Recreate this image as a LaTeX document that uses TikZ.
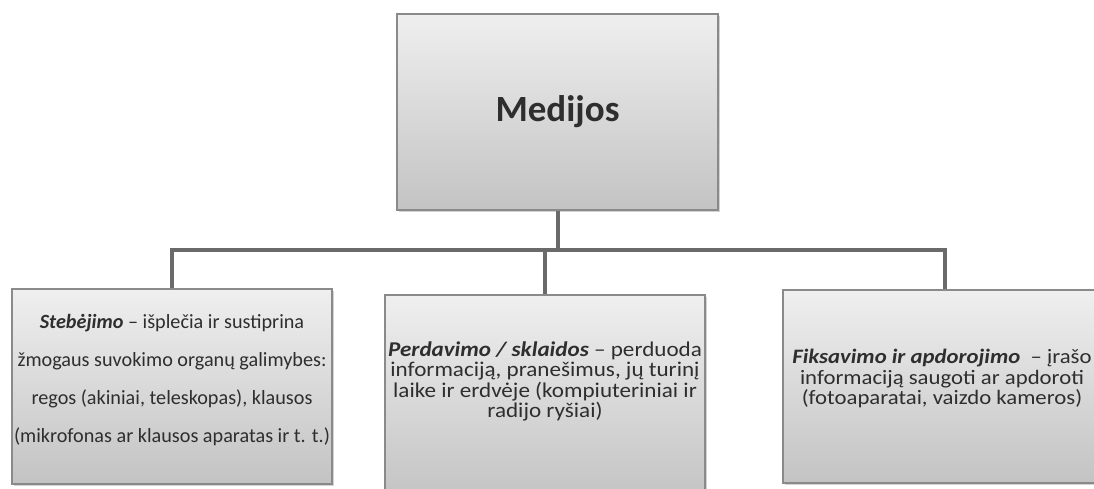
\documentclass[tikz,border=0pt]{standalone}
\usepackage{fontspec}
\setmainfont{Carlito}
\newfontfamily\widefont[FakeStretch=1.1]{Carlito}
\newfontfamily\wideishfont[FakeStretch=1.11]{Carlito}
\usepackage{tikz}
\usetikzlibrary{positioning,shadows}

\definecolor{boxtop}{HTML}{EFEFEF}
\definecolor{boxbottom}{HTML}{C3C3C3}
\definecolor{boxline}{HTML}{8A8A8A}
\definecolor{linkgray}{HTML}{6A6A6A}
\definecolor{textgray}{HTML}{2E2E2E}

\tikzset{
  mediabox/.style={draw=boxline, line width=1.2pt, top color=boxtop, bottom color=boxbottom,
    drop shadow={shadow xshift=1.5pt, shadow yshift=-1.5pt, opacity=0.35}},
  link/.style={draw=linkgray, line width=4pt},
  boxtext/.style={align=center, text=textgray, inner sep=0pt}
}

\begin{document}
\begin{tikzpicture}[x=1pt,y=-1pt]
                \useasboundingbox (0,0) rectangle (1094,488);
                \node[mediabox, minimum width=321pt, minimum height=196pt,
                      font=\fontsize{37}{44}\selectfont\bfseries, text=textgray] (medijos) at (557.5,112) {Medijos};
                \node[mediabox, minimum width=320pt, minimum height=195pt] (stebejimas) at (172,386.5) {};
                \node[mediabox, minimum width=320pt, minimum height=205pt] (perdavimas) at (545,397.5) {};
                \node[mediabox, minimum width=324pt, minimum height=193pt] (fiksavimas) at (945,386.5) {};
                \coordinate (bus) at (547,250);
                \draw[link] (medijos.south) -- (medijos.south |- bus);
                \draw[link] (stebejimas.north) |- (fiksavimas.north |- bus) -- (fiksavimas.north);
                \draw[link] (perdavimas.north) -- (perdavimas.north |- bus);
                \node[boxtext, font=\fontsize{20.2}{38}\selectfont] (stebejimas_t) at ([yshift=6pt]stebejimas.center)
                    {\textbf{\textit{Stebėjimo}} – išplečia ir sustiprina\\
                     žmogaus suvokimo organų galimybes:\\
                     regos (akiniai, teleskopas), klausos\\
                     (mikrofonas ar klausos aparatas ir t. t.)};
                \node[boxtext, font=\widefont\fontsize{21}{20.5}\selectfont] (perdavimas_t) at ([yshift=16pt]perdavimas.center)
                    {\textbf{\textit{Perdavimo / sklaidos}} – perduoda\\
                     informaciją, pranešimus, jų turinį\\
                     laike ir erdvėje (kompiuteriniai ir\\
                     radijo ryšiai)};
                \node[boxtext, font=\wideishfont\fontsize{20.5}{20.5}\selectfont] (fiksavimas_t) at ([xshift=-3pt,yshift=8pt]fiksavimas.center)
                    {\textbf{\textit{Fiksavimo ir apdorojimo}} \ – įrašo\\
                     informaciją saugoti ar apdoroti\\
                     (fotoaparatai, vaizdo kameros)};
\end{tikzpicture}
\end{document}
